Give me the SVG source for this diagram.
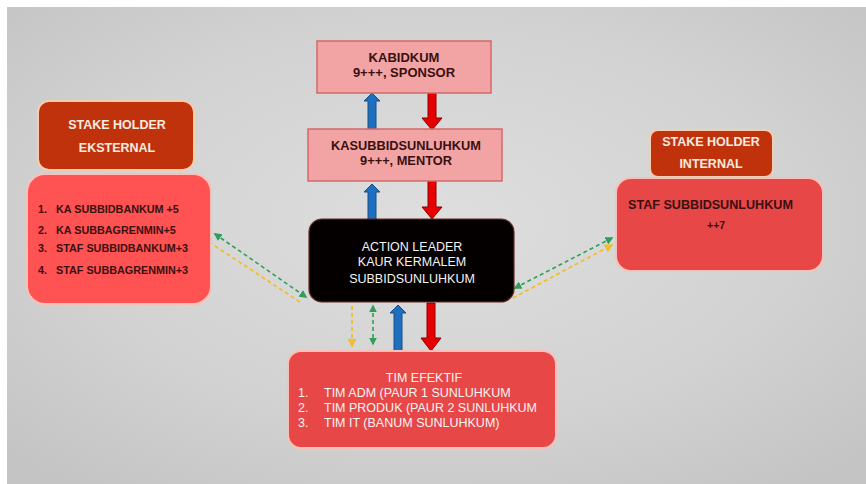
<svg xmlns="http://www.w3.org/2000/svg" width="866" height="484" viewBox="0 0 866 484">
<defs>
<radialGradient id="bg" cx="0.5" cy="0.45" r="0.7">
<stop offset="0" stop-color="#dedede"/>
<stop offset="0.6" stop-color="#d2d2d2"/>
<stop offset="1" stop-color="#c4c4c4"/>
</radialGradient>
<marker id="gh" viewBox="0 0 10 10" refX="8" refY="5" markerWidth="5" markerHeight="5" orient="auto-start-reverse">
<path d="M0,0 L10,5 L0,10 z" fill="#2e9e5a"/>
</marker>
<marker id="yh" viewBox="0 0 10 10" refX="8" refY="5" markerWidth="5" markerHeight="5" orient="auto-start-reverse">
<path d="M0,0 L10,5 L0,10 z" fill="#f2bf2a"/>
</marker>
</defs>
<style>
.top{fill:#f2a3a3;stroke:#d46a6a;stroke-width:1.5}
.hdr{fill:#c0320c;stroke:#f7cdb0;stroke-width:2}
.red{fill:#ff5252;stroke:#f7c0b8;stroke-width:2}
.red2{fill:#e84747;stroke:#f7c0b8;stroke-width:2}
.t{font-family:"Liberation Sans",Arial,sans-serif}
.dk{fill:#3a1010;font-weight:bold}
.wh{fill:#f6ece0;font-weight:bold}
.lt{fill:#f4f4f4}
.ba{fill:#1f6fc0;stroke:#184f86;stroke-width:1}
.ra{fill:#e80000;stroke:#8a0000;stroke-width:1}
.g{stroke:#2e9e5a;stroke-width:1.6;stroke-dasharray:4,3;fill:none}
.y{stroke:#f2bf2a;stroke-width:1.8;stroke-dasharray:4,3;fill:none}
</style>
<rect x="0" y="0" width="866" height="484" fill="#ffffff"/>
<rect x="7" y="7" width="859" height="477" fill="url(#bg)"/>

<g id="connectors">
<path class="ba" d="M368,129 V101 H364 L372,93 L380,101 H376 V129 Z"/>
<path class="ra" d="M428,93 V118 H422 L432,130 L442,118 H436 V93 Z"/>
<path class="ba" d="M368,219 V192 H364 L372,184 L380,192 H376 V219 Z"/>
<path class="ra" d="M428,181 V207 H422 L432,219 L442,207 H436 V181 Z"/>
<path class="ba" d="M394,351 V313 H390 L398,305 L406,313 H402 V351 Z"/>
<path class="ra" d="M427,303 V338 H421 L431,351 L441,338 H435 V303 Z"/>
<line class="y" x1="352" y1="306" x2="352" y2="346" marker-end="url(#yh)"/>
<line class="g" x1="373" y1="306" x2="373" y2="344" marker-start="url(#gh)" marker-end="url(#gh)"/>
<line class="g" x1="215" y1="234" x2="306" y2="297" marker-start="url(#gh)" marker-end="url(#gh)"/>
<line class="y" x1="209" y1="242" x2="300" y2="302"/>
<line class="g" x1="515" y1="288" x2="612" y2="238" marker-start="url(#gh)" marker-end="url(#gh)"/>
<line class="y" x1="513" y1="298" x2="612" y2="245" marker-end="url(#yh)"/>
</g>

<g id="kabidkum">
<rect class="top" x="317" y="41" width="174" height="52"/>
<text class="t dk" x="404" y="62" font-size="13" text-anchor="middle">KABIDKUM</text>
<text class="t dk" x="404" y="77" font-size="13" text-anchor="middle">9+++, SPONSOR</text>
</g>

<g id="kasubbid">
<rect class="top" x="308" y="129" width="194" height="52"/>
<text class="t dk" x="406" y="150" font-size="12.8" text-anchor="middle">KASUBBIDSUNLUHKUM</text>
<text class="t dk" x="406" y="165" font-size="12.8" text-anchor="middle">9+++, MENTOR</text>
</g>

<g id="action-leader">
<rect x="309" y="219" width="205" height="83" rx="13" fill="#050000" stroke="#6a2a20" stroke-width="1.2"/>
<text class="t lt" x="412" y="251" font-size="12.5" text-anchor="middle">ACTION LEADER</text>
<text class="t lt" x="412" y="266" font-size="12.5" text-anchor="middle">KAUR KERMALEM</text>
<text class="t lt" x="412" y="283" font-size="12.5" text-anchor="middle">SUBBIDSUNLUHKUM</text>
</g>

<g id="tim-efektif">
<rect class="red2" x="288" y="351" width="268" height="97" rx="13"/>
<text class="t lt" x="424" y="382" font-size="12.5" text-anchor="middle">TIM EFEKTIF</text>
<text class="t lt" x="298" y="397" font-size="12.5">1.</text>
<text class="t lt" x="324" y="397" font-size="12.5">TIM ADM (PAUR 1 SUNLUHKUM</text>
<text class="t lt" x="298" y="412" font-size="12.5">2.</text>
<text class="t lt" x="324" y="412" font-size="12.5">TIM PRODUK (PAUR 2 SUNLUHKUM</text>
<text class="t lt" x="298" y="427" font-size="12.5">3.</text>
<text class="t lt" x="324" y="427" font-size="12.5">TIM IT (BANUM SUNLUHKUM)</text>
</g>

<g id="stakeholder-eksternal">
<rect class="hdr" x="38" y="101" width="156" height="69" rx="11"/>
<text class="t wh" x="117" y="129" font-size="12.5" text-anchor="middle">STAKE HOLDER</text>
<text class="t wh" x="117" y="152" font-size="12.5" text-anchor="middle">EKSTERNAL</text>
</g>

<g id="eksternal-list">
<rect class="red" x="27" y="174" width="184" height="130" rx="18"/>
<text class="t dk" x="38" y="213" font-size="10.8">1.</text>
<text class="t dk" x="56" y="213" font-size="10.8">KA SUBBIDBANKUM +5</text>
<text class="t dk" x="38" y="234" font-size="10.8">2.</text>
<text class="t dk" x="56" y="234" font-size="10.8">KA SUBBAGRENMIN+5</text>
<text class="t dk" x="38" y="252" font-size="10.8">3.</text>
<text class="t dk" x="56" y="252" font-size="10.8">STAF SUBBIDBANKUM+3</text>
<text class="t dk" x="38" y="274" font-size="10.8">4.</text>
<text class="t dk" x="56" y="274" font-size="10.8">STAF SUBBAGRENMIN+3</text>
</g>

<g id="stakeholder-internal">
<rect class="hdr" x="650" y="130" width="123" height="47" rx="8"/>
<text class="t wh" x="711" y="146" font-size="12.5" text-anchor="middle">STAKE HOLDER</text>
<text class="t wh" x="711" y="168" font-size="12.5" text-anchor="middle">INTERNAL</text>
</g>

<g id="internal-list">
<rect class="red2" x="616" y="178" width="207" height="93" rx="15"/>
<text class="t dk" x="628" y="209" font-size="12.6">STAF SUBBIDSUNLUHKUM</text>
<text class="t dk" x="707" y="229" font-size="10.5">++7</text>
</g>
</svg>
